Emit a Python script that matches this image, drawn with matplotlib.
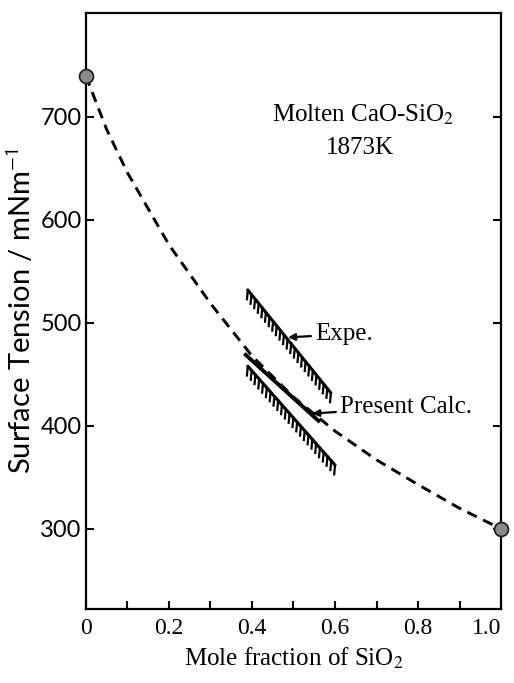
import numpy as np
import matplotlib.pyplot as plt

plt.rcParams["mathtext.fontset"] = "stix"

# calculated curve (dashed)
x_sio2 = [0.0, 0.05, 0.1, 0.2, 0.3, 0.4, 0.5, 0.6, 0.7, 0.8, 0.9, 1.0]
tension_calc = [740, 688, 646, 576, 519, 468, 428, 395, 367, 343, 320, 300]

# pure oxide end points
end_x = [0.0, 1.0]
end_y = [740, 300]

# experimental ranges (hatched) and present calc segment
expe_upper_x = [0.39, 0.59]
expe_upper_y = [532, 432]
expe_lower_x = [0.39, 0.60]
expe_lower_y = [458, 362]
present_x = [0.385, 0.56]
present_y = [469, 405]

y_ticks = [300, 400, 500, 600, 700]
x_ticks = [0.0, 0.1, 0.2, 0.3, 0.4, 0.5, 0.6, 0.7, 0.8, 0.9, 1.0]
x_labels = ["0", "", "0.2", "", "0.4", "", "0.6", "", "0.8", "", "1.0"]

serif = "Liberation Serif"
sans = "Lato"


def hatched(ax, xs, ys, n_teeth=24, tooth=9):
    ax.plot(xs, ys, color="black", lw=2.2, solid_capstyle="round")
    tx = np.linspace(xs[0], xs[1], n_teeth)
    ty = np.linspace(ys[0], ys[1], n_teeth)
    for a, b in zip(tx, ty):
        ax.plot([a, a - 0.002], [b, b - tooth], color="black", lw=1.6)


fig = plt.figure(figsize=(5.14, 6.83), dpi=100)
ax = fig.add_axes([0.167, 0.108, 0.808, 0.873])

ax.plot(
    x_sio2, tension_calc,
    color="black", lw=2.1, linestyle=(0, (3.6, 2.4))
)

ax.plot(
    end_x, end_y, "o",
    color="#8a8a8a", markeredgecolor="#222222",
    markeredgewidth=1.3, markersize=10, clip_on=False, zorder=5
)

hatched(ax, expe_upper_x, expe_upper_y)
hatched(ax, expe_lower_x, expe_lower_y)

ax.plot(present_x, present_y, color="black", lw=2.8)

ax.annotate(
    "Expe.", xy=(0.487, 486), xytext=(0.552, 489),
    fontsize=18, family=serif, va="center",
    arrowprops=dict(arrowstyle="-|>", color="black", lw=1.6,
                    mutation_scale=10, shrinkA=1, shrinkB=0)
)
ax.annotate(
    "Present Calc.", xy=(0.545, 412), xytext=(0.612, 418),
    fontsize=18, family=serif, va="center",
    arrowprops=dict(arrowstyle="-|>", color="black", lw=1.6,
                    mutation_scale=10, shrinkA=1, shrinkB=0)
)

ax.text(0.668, 702, "Molten CaO-SiO$_2$", fontsize=18,
        family=serif, ha="center", va="center")
ax.text(0.66, 670, "1873K", fontsize=18,
        family=serif, ha="center", va="center")

ax.set_xlim(0, 1.0)
ax.set_ylim(222, 801)

ax.set_xticks(x_ticks)
ax.set_xticklabels(x_labels, family=serif, fontsize=17)
ax.set_yticks(y_ticks)
ax.set_yticklabels([str(v) for v in y_ticks], family=sans, fontsize=17)

# "1.0" sits a little left of the axis end in the original
ax.get_xticklabels()[-1].set_horizontalalignment("right")

ax.tick_params(axis="both", direction="in", length=6, width=1.5,
               right=True, top=False, pad=6)
ax.tick_params(axis="y", pad=3)

for s in ax.spines.values():
    s.set_linewidth(1.6)

ax.set_xlabel("Mole fraction of SiO$_2$", family=serif, fontsize=18,
              labelpad=5)
ax.set_ylabel("Surface Tension / mNm$^{\\mathsf{-1}}$", family=sans,
              fontsize=21, labelpad=3)

fig.savefig("out.png", dpi=100)
